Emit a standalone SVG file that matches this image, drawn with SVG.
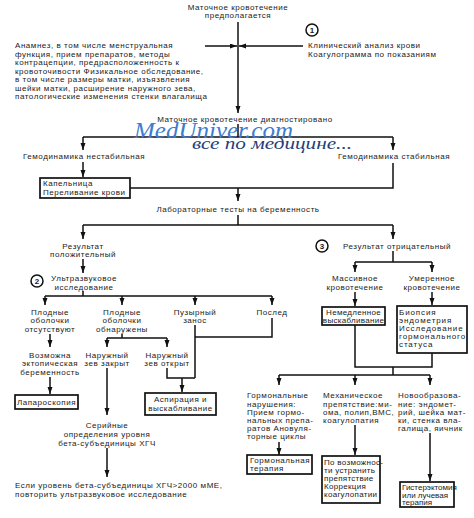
<svg xmlns="http://www.w3.org/2000/svg" width="474" height="518" viewBox="0 0 474 518">
<defs>
<marker id="ah" markerUnits="userSpaceOnUse" markerWidth="8" markerHeight="6" refX="7" refY="2.5" orient="auto">
<path d="M0,0 L7,2.5 L0,5 z" fill="#111"/>
</marker>
<style>
text{font-family:"Liberation Sans",Arial,sans-serif;font-size:8px;letter-spacing:0.55px;fill:#1a1a1a}
.c{text-anchor:middle}
.ln{fill:none;stroke:#111;stroke-width:1.5}
.ar{fill:none;stroke:#111;stroke-width:1.5;marker-end:url(#ah)}
.bx{fill:#fff;stroke:#111;stroke-width:1.7}
.ci{fill:#fff;stroke:#111;stroke-width:1.5}
.num{font-weight:bold;text-anchor:middle;letter-spacing:0}
.tight text{letter-spacing:0}
.mid text{letter-spacing:0.3px}
.wide text{letter-spacing:0.9px}
.wm1{font-family:"Liberation Serif",serif;font-style:italic;font-size:24px;letter-spacing:0;fill:#3b7dd0}
.wm2{font-family:"Liberation Serif",serif;font-style:italic;font-size:17px;letter-spacing:0;fill:#1f3f78}
</style>
</defs>
<rect width="474" height="518" fill="#fff"/>

<g id="connectors">
<path class="ar" d="M238,22 V113"/>
<path class="ar" d="M205,46 H237"/>
<path class="ar" d="M303,46 H239"/>
<path class="ln" d="M238,124 V137 M83,137 H393"/>
<path class="ar" d="M83,137 V150"/>
<path class="ar" d="M393,137 V150"/>
<path class="ar" d="M83,162 V177"/>
<path class="ln" d="M130,188 H393 V163"/>
<path class="ar" d="M238,188 V201"/>
<path class="ln" d="M238,215 V225 M83,225 H393"/>
<path class="ar" d="M83,225 V239"/>
<path class="ar" d="M393,225 V239"/>
<path class="ar" d="M83,259 V273"/>
<path class="ln" d="M83,291 V296 M45,296 H272"/>
<path class="ar" d="M45,296 V305"/>
<path class="ar" d="M122,296 V305"/>
<path class="ar" d="M195,296 V305"/>
<path class="ar" d="M272,296 V305"/>
<path class="ar" d="M50,334 V347"/>
<path class="ar" d="M50,377 V394"/>
<path class="ln" d="M122,334 V338 M107,338 H167"/>
<path class="ar" d="M107,338 V347"/>
<path class="ar" d="M167,338 V347"/>
<path class="ln" d="M195,325 V378 M272,318 V337 H195 M167,368 V378 H195"/>
<path class="ar" d="M182,378 V392"/>
<path class="ar" d="M107,368 V415"/>
<path class="ar" d="M107,448 V477"/>
<path class="ln" d="M393,251 V262 M355,262 H432"/>
<path class="ar" d="M355,262 V272"/>
<path class="ar" d="M432,262 V272"/>
<path class="ar" d="M355,292 V306"/>
<path class="ar" d="M432,292 V305"/>
<path class="ln" d="M355,325 V367 H432 V353 M393,367 V375 M279,375 H430"/>
<path class="ar" d="M279,375 V385"/>
<path class="ar" d="M355,375 V385"/>
<path class="ar" d="M430,375 V385"/>
<path class="ar" d="M279,442 V455"/>
<path class="ar" d="M355,425 V455"/>
<path class="ar" d="M430,433 V481"/>
</g>

<g id="n-start">
<text class="c" x="238" y="10">Маточное кровотечение</text>
<text class="c" x="238" y="18">предполагается</text>
</g>
<g id="n-c1">
<circle class="ci" cx="312" cy="30" r="6"/>
<text class="num" x="312" y="33">1</text>
</g>
<g id="n-lab1">
<text x="308" y="48">Клинический анализ крови</text>
<text x="308" y="57">Коагулограмма по показаниям</text>
</g>
<g id="n-anamnez">
<text x="15" y="48">Анамнез, в том числе менструальная</text>
<text x="15" y="56.5">функция, прием препаратов, методы</text>
<text x="15" y="65">контрацепции, предрасположенность к</text>
<text x="15" y="73.5">кровоточивости Физикальное обследование,</text>
<text x="15" y="82">в том числе размеры матки, изъязвления</text>
<text x="15" y="90.5">шейки матки, расширение наружного зева,</text>
<text x="15" y="99">патологические изменения стенки влагалища</text>
</g>
<g id="n-diag">
<text class="c" x="245" y="122">Маточное кровотечение диагностировано</text>
</g>
<g id="watermark">
<text class="wm1" x="134" y="138" textLength="159" lengthAdjust="spacingAndGlyphs">MedUniver.com</text>
<text class="wm2" x="192" y="149" textLength="160" lengthAdjust="spacingAndGlyphs">все по медицине...</text>
</g>
<g id="n-unstable">
<text class="c" x="84" y="159">Гемодинамика нестабильная</text>
</g>
<g id="n-stable">
<text class="c" x="394" y="159">Гемодинамика стабильная</text>
</g>
<g id="n-drip">
<rect class="bx" x="40" y="178" width="90" height="20"/>
<text x="43" y="186">Капельница</text>
<text x="43" y="195">Переливание крови</text>
</g>
<g id="n-labtests">
<text class="c" x="238" y="212">Лабораторные тесты на беременность</text>
</g>
<g id="n-pos">
<text class="c" x="83" y="249">Результат</text>
<text class="c" x="83" y="257">положительный</text>
</g>
<g id="n-c3">
<circle class="ci" cx="322" cy="246" r="6"/>
<text class="num" x="322" y="249">3</text>
</g>
<g id="n-neg">
<text class="c" x="397" y="249">Результат отрицательный</text>
</g>
<g id="n-c2">
<circle class="ci" cx="37" cy="281" r="6"/>
<text class="num" x="37" y="284">2</text>
</g>
<g id="n-us">
<text class="c" x="84" y="281">Ультразвуковое</text>
<text class="c" x="84" y="290">исследование</text>
</g>
<g id="n-absent">
<text class="c" x="50" y="315">Плодные</text>
<text class="c" x="50" y="323">оболочки</text>
<text class="c" x="50" y="332">отсутствуют</text>
</g>
<g id="n-found">
<text class="c" x="122" y="315">Плодные</text>
<text class="c" x="122" y="323">оболочки</text>
<text class="c" x="122" y="332">обнаружены</text>
</g>
<g id="n-mole">
<text class="c" x="195" y="315">Пузырный</text>
<text class="c" x="195" y="323">занос</text>
</g>
<g id="n-placenta">
<text class="c" x="272" y="315">Послед</text>
</g>
<g id="n-ectopic">
<text class="c" x="50" y="358">Возможна</text>
<text class="c" x="50" y="366">эктопическая</text>
<text class="c" x="50" y="375">беременность</text>
</g>
<g id="n-closed">
<text class="c" x="107" y="358">Наружный</text>
<text class="c" x="107" y="366">зев закрыт</text>
</g>
<g id="n-open">
<text class="c" x="167" y="358">Наружный</text>
<text class="c" x="167" y="366">зев открыт</text>
</g>
<g id="n-lap">
<rect class="bx" x="15" y="395" width="63" height="14"/>
<text class="c" x="46.5" y="405">Лапароскопия</text>
</g>
<g id="n-asp">
<rect class="bx" x="145" y="393" width="71" height="22"/>
<text class="c" x="180.5" y="402">Аспирация и</text>
<text class="c" x="180.5" y="411">выскабливание</text>
</g>
<g id="n-serial">
<text class="c" x="107" y="428">Серийные</text>
<text class="c" x="107" y="437">определения уровня</text>
<text class="c" x="107" y="446">бета-субъединицы ХГЧ</text>
</g>
<g id="n-if">
<text x="15" y="488">Если уровень бета-субъединицы ХГЧ&gt;2000 мМЕ,</text>
<text x="15" y="497">повторить ультразвуковое исследование</text>
</g>
<g id="n-massive">
<text class="c" x="355" y="281">Массивное</text>
<text class="c" x="355" y="290">кровотечение</text>
</g>
<g id="n-moderate">
<text class="c" x="432" y="281">Умеренное</text>
<text class="c" x="432" y="290">кровотечение</text>
</g>
<g id="n-curettage" class="mid">
<rect class="bx" x="322" y="307" width="63" height="18"/>
<text class="c" x="353.5" y="315">Немедленное</text>
<text class="c" x="353.5" y="323">выскабливание</text>
</g>
<g id="n-biopsy" class="wide">
<rect class="bx" x="397" y="306" width="70" height="47"/>
<text x="399" y="315">Биопсия</text>
<text x="399" y="323">эндометрия</text>
<text x="399" y="331">Исследование</text>
<text x="399" y="339">гормонального</text>
<text x="399" y="347">статуса</text>
</g>
<g id="n-hormonal">
<text x="247" y="398">Гормональные</text>
<text x="247" y="406.5">нарушения:</text>
<text x="247" y="415">Прием гормо-</text>
<text x="247" y="423">нальных препа-</text>
<text x="247" y="431">ратов Ановуля-</text>
<text x="247" y="439">торные циклы</text>
</g>
<g id="n-mech">
<text x="323" y="398">Механическое</text>
<text x="323" y="406.5">препятствие:ми-</text>
<text x="323" y="415">ома, полип,ВМС,</text>
<text x="323" y="423">коагулопатия</text>
</g>
<g id="n-neo">
<text x="398" y="398">Новообразова-</text>
<text x="398" y="406.5">ние: эндомет-</text>
<text x="398" y="415">рий, шейка мат-</text>
<text x="398" y="423">ки, стенка вла-</text>
<text x="398" y="431">галища, яичник</text>
</g>
<g id="n-hormtherapy">
<rect class="bx" x="247" y="455" width="65" height="19"/>
<text x="250" y="463">Гормональная</text>
<text x="250" y="471">терапия</text>
</g>
<g id="n-remove" class="mid">
<rect class="bx" x="322" y="456" width="58" height="47"/>
<text x="324" y="465">По возможнос-</text>
<text x="324" y="473">ти устранить</text>
<text x="324" y="481">препятствие</text>
<text x="324" y="489">Коррекция</text>
<text x="324" y="497">коагулопатии</text>
</g>
<g id="n-hyst" class="tight">
<rect class="bx" x="400" y="482" width="54" height="25"/>
<text x="402" y="490">Гистерэктомия</text>
<text x="402" y="497.5">или лучевая</text>
<text x="402" y="505">терапия</text>
</g>
</svg>
